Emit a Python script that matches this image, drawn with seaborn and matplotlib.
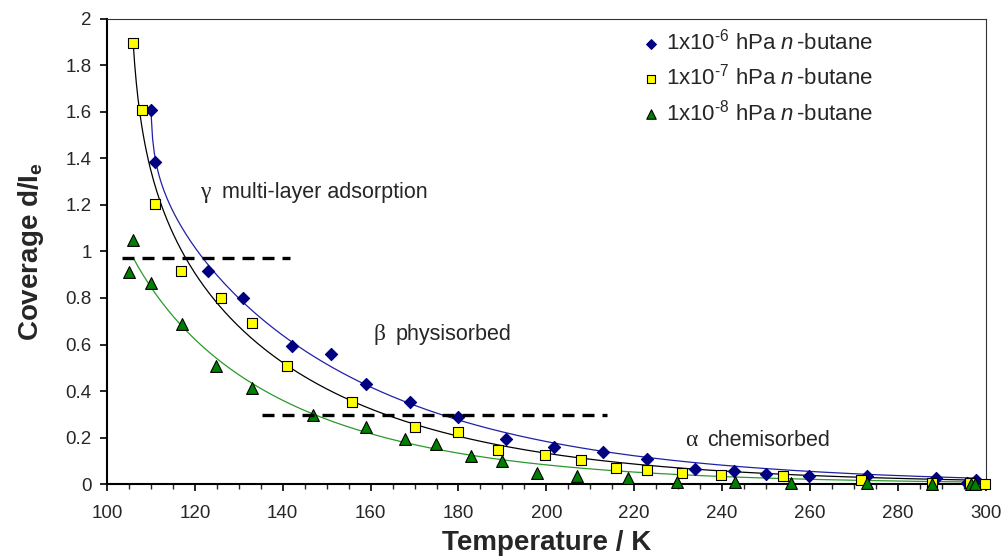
import numpy as np
import pandas as pd
import matplotlib
matplotlib.use("Agg")
import matplotlib.pyplot as plt
import seaborn as sns
from matplotlib.ticker import MultipleLocator, FuncFormatter

# n-butane coverage vs temperature, three pressures
T_e6 = [110.0, 111.0, 122.9, 130.9, 142.0, 150.9, 158.9, 168.9, 180.0, 190.9, 201.8,
        212.9, 222.9, 233.9, 242.7, 249.9, 259.8, 272.9, 288.7, 295.8, 297.7]
cov_e6 = [1.61, 1.386, 0.916, 0.799, 0.595, 0.559, 0.429, 0.354, 0.287, 0.195, 0.160,
          0.139, 0.106, 0.063, 0.056, 0.042, 0.036, 0.034, 0.024, 0.006, 0.017]

T_e7 = [105.9, 108.0, 110.9, 116.9, 125.9, 133.0, 140.9, 155.8, 170.0, 180.0, 188.9,
        199.8, 207.9, 215.9, 222.9, 230.9, 239.8, 253.9, 271.7, 287.8, 296.5, 299.8]
cov_e7 = [1.898, 1.609, 1.204, 0.916, 0.799, 0.691, 0.509, 0.354, 0.247, 0.222, 0.146,
          0.125, 0.105, 0.069, 0.060, 0.049, 0.037, 0.034, 0.016, 0.003, 0.004, 0.0]

T_e8 = [105.0, 105.9, 109.9, 117.0, 124.9, 133.0, 146.8, 158.9, 167.8, 174.9, 182.9,
        189.9, 197.9, 206.9, 218.7, 229.7, 242.9, 255.8, 272.9, 287.8, 296.7, 297.6]
cov_e8 = [0.913, 1.049, 0.863, 0.688, 0.509, 0.412, 0.297, 0.244, 0.192, 0.171, 0.122,
          0.100, 0.046, 0.034, 0.024, 0.010, 0.010, 0.003, 0.003, 0.0, 0.0, 0.0]

labels = ['1x10$^{\\text{-6}}$ hPa $n\\,$-butane',
          '1x10$^{\\text{-7}}$ hPa $n\\,$-butane',
          '1x10$^{\\text{-8}}$ hPa $n\\,$-butane']

# layer boundaries (dashed) and region names
bound_y = [0.97, 0.295]
bound_x0 = [103.4, 135.2]
bound_x1 = [141.6, 213.7]
regions = [('\u03b3', 'multi-layer adsorption', 121.1, 1.252),
           ('\u03b2', 'physisorbed', 160.7, 0.641),
           ('\u03b1', 'chemisorbed', 231.6, 0.189)]


def fit_curve(T, c):
    # trend line: log c = a - n*log(T - T0) - k*T, best T0 picked on a grid
    T = np.asarray(T)
    c = np.asarray(c)
    m = c > 0.01
    best = None
    for t0 in np.linspace(60, T.min() - 0.2, 300):
        A = np.column_stack([np.ones(m.sum()), -np.log(T[m] - t0), -T[m]])
        w = c[m]
        coef, *_ = np.linalg.lstsq(A * w[:, None], np.log(c[m]) * w, rcond=None)
        r = np.sum((np.exp(A @ coef) - c[m]) ** 2)
        if best is None or r < best[0]:
            best = (r, t0, coef)
    _, t0, coef = best
    tt = np.linspace(T[np.argmax(c)], T.max(), 500)
    B = np.column_stack([np.ones_like(tt), -np.log(tt - t0), -tt])
    return tt, np.exp(B @ coef)


sns.set_style('ticks')
plt.rcParams['font.family'] = ['Liberation Sans', 'DejaVu Sans']
plt.rcParams['mathtext.fontset'] = 'custom'
plt.rcParams['mathtext.rm'] = 'Liberation Sans'
plt.rcParams['mathtext.it'] = 'Liberation Sans:italic'
plt.rcParams['mathtext.bf'] = 'Liberation Sans:bold'

fig = plt.figure(figsize=(10.03, 5.57), dpi=100)
ax = fig.add_axes([0.1067, 0.131, 0.876, 0.835])

series = [
    (T_e6, cov_e6, labels[0], 'D', '#000080', '#000080', '#2020a8', 6.2),
    (T_e7, cov_e7, labels[1], 's', '#ffff00', 'black', 'black', 7.5),
    (T_e8, cov_e8, labels[2], '^', '#008000', 'black', '#2a9a2a', 8.5),
]

for T, c, lab, mk, fc, ec, lc, ms in series:
    tt, yy = fit_curve(T, c)
    sns.lineplot(x=tt, y=yy, ax=ax, color=lc, lw=0.9, zorder=2)

for T, c, lab, mk, fc, ec, lc, ms in series:
    df = pd.DataFrame({'T': T, 'cov': c})
    sns.scatterplot(data=df, x='T', y='cov', ax=ax, marker=mk, s=(ms) ** 2,
                    color=fc, edgecolor=ec, linewidth=0.8, label=lab, zorder=3,
                    clip_on=False)

for y, x0, x1 in zip(bound_y, bound_x0, bound_x1):
    ax.plot([x0, x1], [y, y], color='black', lw=2.4, ls=(0, (3.6, 2.4)), zorder=4)

for g, txt, x, y in regions:
    ax.annotate(g, (x, y), fontsize=17, family=['Liberation Serif', 'DejaVu Serif'],
                va='center', ha='left')
    ax.annotate(txt, (x, y), xytext=(16, 0), textcoords='offset points',
                fontsize=15.5, va='center', ha='left')

ax.set_xlim(100, 300)
ax.set_ylim(0, 2)
ax.xaxis.set_major_locator(MultipleLocator(20))
ax.xaxis.set_minor_locator(MultipleLocator(5))
ax.yaxis.set_major_locator(MultipleLocator(0.2))
ax.yaxis.set_major_formatter(FuncFormatter(lambda v, p: '%g' % round(v, 2)))
ax.tick_params(axis='both', which='major', labelsize=13.5, length=5, width=1.2,
               direction='out', color='black', pad=6)
ax.tick_params(axis='x', which='major', pad=10)
ax.tick_params(axis='x', which='minor', length=3.5, width=1.0, direction='out')

for s in ['left', 'bottom']:
    ax.spines[s].set_linewidth(1.5)
    ax.spines[s].set_color('black')
for s in ['top', 'right']:
    ax.spines[s].set_linewidth(0.8)
    ax.spines[s].set_color('#333333')

ax.set_xlabel('Temperature / K', fontsize=20, fontweight='bold', labelpad=6)
ax.set_ylabel('Coverage d/I$_\\mathbf{e}$', fontsize=20, fontweight='bold', labelpad=14)

leg = ax.legend(loc='upper left', bbox_to_anchor=(0.598, 0.998), frameon=False,
                fontsize=16, handletextpad=0.2, handlelength=0.9, labelspacing=0.42,
                markerscale=0.8, borderaxespad=0)

fig.savefig('out.png', dpi=100)
